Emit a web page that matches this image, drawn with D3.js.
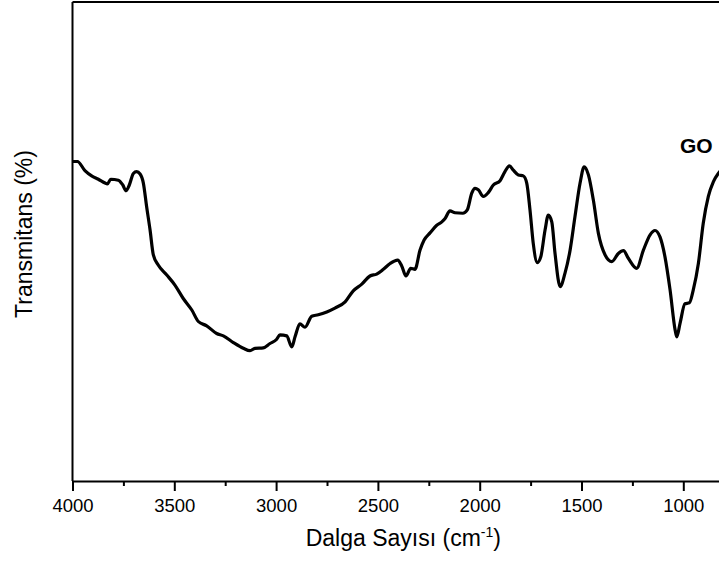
<!DOCTYPE html>
<html>
<head>
<meta charset="utf-8">
<script src="https://cdn.jsdelivr.net/npm/d3@7"></script>
<style>
  html, body { margin: 0; padding: 0; background: #fff; }
  svg { display: block; font-family: "Liberation Sans", Arial, sans-serif; }
</style>
</head>
<body>
<svg id="chart" width="719" height="561"></svg>
<script>
// FTIR spectrum of GO: wavenumber (cm-1) and transmittance (%)
const wavenumbers = [
  4000, 3976, 3939, 3906, 3873, 3840, 3829, 3812, 3775, 3753, 3737, 3721, 3701, 3685, 3668,
  3652, 3636, 3619, 3603, 3579, 3537, 3497, 3456, 3414, 3382, 3341, 3292, 3259, 3210, 3161,
  3128, 3104, 3063, 3030, 2997, 2981, 2948, 2923, 2907, 2883, 2858, 2825, 2793, 2751, 2711,
  2661, 2621, 2579, 2539, 2506, 2473, 2440, 2403, 2383, 2362, 2339, 2318, 2293, 2273, 2244,
  2211, 2186, 2170, 2146, 2121, 2083, 2061, 2039, 2023, 2007, 1982, 1958, 1933, 1900, 1876,
  1854, 1835, 1810, 1786, 1769, 1753, 1737, 1717, 1700, 1679, 1663, 1646, 1630, 1605, 1581,
  1556, 1532, 1507, 1487, 1466, 1442, 1417, 1384, 1351, 1319, 1294, 1270, 1229, 1196, 1163,
  1139, 1114, 1090, 1065, 1040, 1032, 1016, 992, 970, 951, 926, 902, 877, 852, 828,
  800, 760
];
const transmittance = [
  66.7, 66.7, 64.8, 63.7, 63.0, 62.2, 62.0, 63.0, 62.8, 61.8, 60.6, 61.8, 64.2, 64.6, 64.1,
  62.2, 57.3, 52.4, 47.2, 45.1, 43.0, 40.9, 38.1, 35.7, 33.3, 32.4, 30.8, 30.3, 28.9, 27.7,
  27.2, 27.7, 27.8, 28.7, 29.6, 30.5, 30.3, 28.0, 30.1, 32.8, 32.1, 34.4, 34.7, 35.3, 36.1,
  37.4, 39.7, 41.1, 42.8, 43.2, 44.2, 45.4, 46.1, 44.9, 42.8, 44.4, 44.2, 48.2, 50.3, 51.8,
  53.4, 54.1, 54.8, 56.4, 56.0, 55.9, 56.6, 60.1, 61.1, 60.8, 59.4, 60.2, 61.8, 62.7, 64.6,
  65.8, 64.9, 63.9, 63.7, 62.2, 56.6, 49.6, 45.6, 46.8, 52.4, 55.5, 54.1, 47.5, 40.6, 43.4,
  48.2, 55.2, 62.2, 65.6, 63.9, 58.7, 51.7, 47.2, 45.8, 47.5, 48.1, 46.5, 44.4, 48.2, 51.4,
  52.3, 50.9, 46.8, 39.9, 31.5, 30.1, 32.9, 37.0, 37.2, 39.9, 45.4, 53.8, 59.4, 62.5, 64.2,
  65.5, 66.5
];
const majorTicks = [4000, 3500, 3000, 2500, 2000, 1500, 1000];
const minorTicks = [3750, 3250, 2750, 2250, 1750, 1250, 750];
const seriesLabel = "GO";

const svg = d3.select("#chart");
const plotLeft = 72.5, plotRight = 734.2, plotTop = 2, plotBottom = 481;

const x = d3.scaleLinear().domain([4000, 750]).range([plotLeft, plotRight]);
const y = d3.scaleLinear().domain([0, 100]).range([plotBottom, plotTop]);

const data = wavenumbers.map((w, i) => ({ w, t: transmittance[i] }));

svg.append("defs").append("clipPath").attr("id", "plotClip")
  .append("rect").attr("x", plotLeft).attr("y", plotTop)
  .attr("width", plotRight - plotLeft).attr("height", plotBottom - plotTop);

// spectrum trace
svg.append("path")
  .datum(data)
  .attr("clip-path", "url(#plotClip)")
  .attr("fill", "none")
  .attr("stroke", "#000")
  .attr("stroke-width", 3.2)
  .attr("stroke-linejoin", "round")
  .attr("d", d3.line().x(d => x(d.w)).y(d => y(d.t)).curve(d3.curveMonotoneX));

// frame: top and left edges
svg.append("line").attr("x1", plotLeft).attr("x2", plotRight).attr("y1", plotTop).attr("y2", plotTop)
  .attr("stroke", "#000").attr("stroke-width", 2);
svg.append("line").attr("x1", plotLeft).attr("x2", plotLeft).attr("y1", plotTop).attr("y2", plotBottom)
  .attr("stroke", "#000").attr("stroke-width", 2);

// bottom axis with major and minor ticks
const xAxis = svg.append("g").attr("transform", `translate(0,${plotBottom})`)
  .call(d3.axisBottom(x).tickValues(majorTicks).tickSize(10).tickPadding(8).tickFormat(d3.format("d")));
xAxis.select(".domain").attr("stroke-width", 2);
xAxis.selectAll(".tick line").attr("stroke-width", 2);
xAxis.selectAll(".tick text").attr("font-size", 18.5).attr("fill", "#000")
  .attr("font-family", "Liberation Sans, Arial, sans-serif");

const xMinor = svg.append("g").attr("transform", `translate(0,${plotBottom})`)
  .call(d3.axisBottom(x).tickValues(minorTicks).tickSize(5).tickFormat(""));
xMinor.select(".domain").remove();
xMinor.selectAll(".tick line").attr("stroke-width", 2);

// axis titles
const xTitle = svg.append("text")
  .attr("x", (plotLeft + plotRight) / 2).attr("y", 546)
  .attr("text-anchor", "middle").attr("font-size", 23).attr("fill", "#000");
xTitle.append("tspan").text("Dalga Sayısı (cm");
xTitle.append("tspan").attr("font-size", 14).attr("dy", -9).text("-1");
xTitle.append("tspan").attr("dy", 9).text(")");

svg.append("text")
  .attr("transform", "translate(32,234) rotate(-90)")
  .attr("text-anchor", "middle").attr("font-size", 23).attr("fill", "#000")
  .text("Transmitans (%)");

// series label
svg.append("text")
  .attr("x", 680).attr("y", 153)
  .attr("font-size", 21).attr("font-weight", "bold").attr("fill", "#000")
  .text(seriesLabel);
</script>
</body>
</html>
